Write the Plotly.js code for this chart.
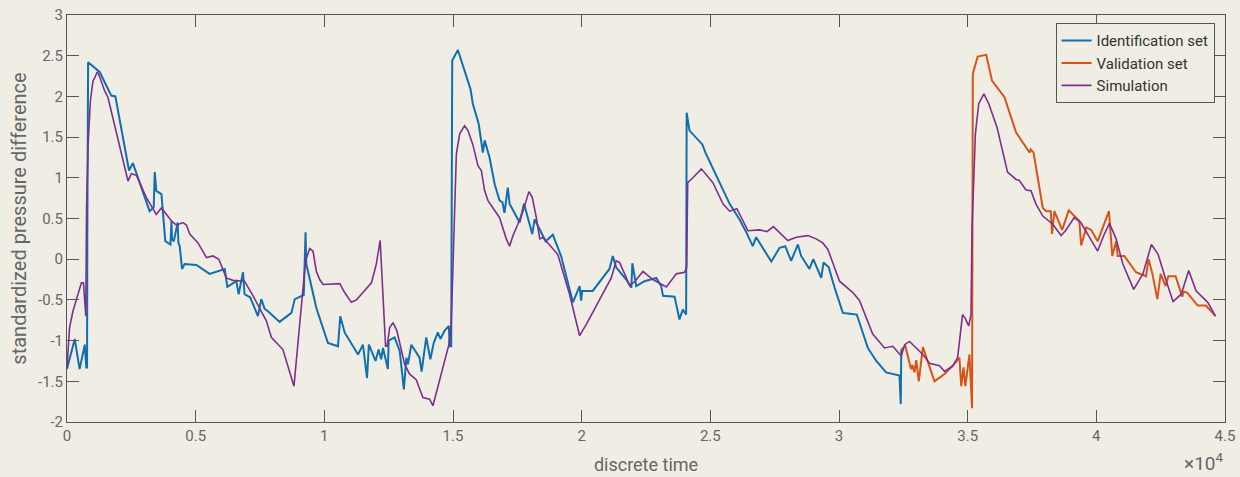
<!DOCTYPE html>
<html>
<head>
<meta charset="utf-8">
<script src="https://cdn.plot.ly/plotly-3.0.1.min.js"></script>
<style>
  html, body { margin: 0; padding: 0; background: #F0EEE4; }
  #chart { width: 1240px; height: 477px; }
</style>
</head>
<body>
<div id="chart"></div>
<script>
// ---- Data (discrete time, standardized pressure difference) ----
const identX = [0,300,490,690,750,780,790,820,1270,1720,1880,2410,2560,2760,3210,3370,3410,3470,3670,3820,4020,4060,4080,4150,4300,4330,4380,4470,4570,5030,5540,6130,6230,6580,6670,6840,6900,7120,7420,7550,7680,7810,8260,8720,8850,9200,9270,9300,9690,10140,10530,10620,10790,11310,11500,11660,11730,11990,12110,12210,12280,12470,12500,12730,12930,13090,13190,13250,13380,13700,13780,13960,14120,14250,14410,14510,14670,14840,14870,14930,14970,15190,15680,15770,16000,16160,16230,16420,16620,16810,16920,17000,17130,17200,17590,17760,18080,18170,18600,18880,19200,19660,19920,19980,20020,20430,21080,21210,21340,21730,21930,21970,22120,22440,22900,23090,23160,23610,23800,23930,24060,24080,24190,24690,24810,25750,26130,26400,26650,26780,27370,27690,27910,28140,28400,28530,28850,29000,29310,29400,29600,29830,30150,30410,30690,31120,31450,31830,32350,32400,32420];
const identY = [-1.35,-0.98,-1.35,-1.05,-1.33,-1.33,0.3,2.42,2.30,2.01,2.0,1.09,1.18,1.0,0.59,0.64,1.07,0.84,0.80,0.22,0.18,0.47,0.25,0.22,0.45,0.2,0.16,-0.12,-0.06,-0.07,-0.18,-0.12,-0.34,-0.27,-0.43,-0.16,-0.43,-0.47,-0.70,-0.49,-0.61,-0.64,-0.77,-0.66,-0.49,-0.44,0.33,-0.06,-0.6,-1.03,-1.07,-0.70,-0.90,-1.17,-1.05,-1.46,-1.05,-1.25,-1.11,-1.23,-1.09,-1.35,-1.0,-0.96,-1.13,-1.6,-1.21,-1.29,-1.05,-1.21,-1.38,-0.96,-1.23,-1.03,-0.90,-0.98,-0.88,-0.82,-1.07,-1.07,2.44,2.57,2.09,1.91,1.66,1.31,1.46,1.25,0.92,0.72,0.70,0.57,0.88,0.68,0.45,0.68,0.31,0.49,0.22,0.30,0.04,-0.53,-0.33,-0.51,-0.39,-0.39,-0.12,0.04,-0.10,-0.25,-0.35,-0.05,-0.33,-0.27,-0.23,-0.33,-0.45,-0.46,-0.74,-0.62,-0.68,1.80,1.58,1.41,1.31,0.68,0.49,0.33,0.16,0.27,-0.03,0.14,0.16,-0.02,0.18,0.04,-0.12,0.0,-0.23,-0.04,-0.10,-0.35,-0.66,-0.67,-0.68,-1.09,-1.25,-1.39,-1.43,-1.78,-1.11];

const validX = [32420,32580,32800,32850,32930,33000,33100,33260,33710,34100,34420,34680,34750,34840,34910,35000,35070,35170,35200,35390,35720,35950,36430,36880,37330,37400,37450,37560,37920,38050,38230,38280,38370,38670,38930,39340,39410,39610,39800,40050,40490,40620,40770,40830,41090,41540,41930,42030,42180,42370,42500,42690,42800,43080,43340,43400,43530,43940,44260,44630];
const validY = [-1.11,-1.07,-1.35,-1.30,-1.39,-1.24,-1.50,-1.08,-1.50,-1.41,-1.31,-1.21,-1.56,-1.33,-1.56,-1.35,-1.17,-1.83,2.28,2.49,2.51,2.19,1.99,1.56,1.35,1.31,1.35,1.31,0.63,0.59,0.59,0.31,0.59,0.36,0.60,0.47,0.17,0.39,0.36,0.22,0.59,0.04,0.22,0.04,0.04,-0.16,-0.21,0.0,-0.18,-0.49,-0.18,-0.33,-0.21,-0.21,-0.46,-0.40,-0.41,-0.57,-0.57,-0.70];

const simX = [0,100,230,560,640,730,760,820,910,1010,1080,1170,1260,1460,1590,1980,2370,2500,2700,3080,3470,3670,3870,4060,4250,4510,4640,4770,5090,5420,5670,5900,6190,6450,6900,7230,7750,7940,8390,8820,9270,9430,9560,9690,9820,9950,10600,10790,11050,11250,11500,11830,12020,12170,12380,12440,12540,12670,12820,13120,13310,13570,13830,14090,14220,14350,14610,14840,14930,15130,15260,15450,15580,15770,15970,16100,16230,16360,16810,17070,17200,17330,17520,17720,17950,18080,18240,18370,18490,18750,19070,19530,19920,20180,20690,21150,21340,21470,21670,21860,22050,22380,22770,23290,23680,24000,24080,24120,24320,24650,25100,25490,25750,26030,26460,26910,27200,27450,28010,28340,28790,29110,29370,29570,30020,30540,30800,31310,31770,32090,32420,32550,32740,33260,33520,33910,34100,34420,34610,34750,34800,34910,35040,35130,35170,35300,35430,35630,35820,36140,36400,36550,36880,37000,37270,37460,37650,37920,38310,38630,38800,39140,39400,39730,40050,40300,40510,40770,41030,41450,41810,42140,42400,42720,42980,43300,43590,43880,44330,44630];
const simY = [-1.33,-0.84,-0.64,-0.29,-0.29,-0.70,0.63,1.41,1.95,2.19,2.23,2.30,2.25,2.07,1.99,1.46,0.96,1.05,1.03,0.76,0.55,0.63,0.55,0.47,0.42,0.45,0.42,0.31,0.20,0.02,0.04,0.0,-0.23,-0.26,-0.27,-0.45,-0.76,-0.96,-1.11,-1.56,-0.02,0.13,0.10,-0.15,-0.25,-0.31,-0.30,-0.41,-0.53,-0.50,-0.41,-0.29,-0.06,0.23,-1.07,-1.07,-0.84,-0.78,-0.88,-1.29,-1.41,-1.48,-1.70,-1.72,-1.80,-1.64,-1.33,-1.05,-0.80,1.29,1.54,1.64,1.58,1.41,1.15,1.09,0.84,0.72,0.51,0.25,0.16,0.29,0.43,0.59,0.83,0.76,0.51,0.25,0.27,0.18,0.06,-0.43,-0.94,-0.80,-0.51,-0.23,-0.02,-0.04,-0.18,-0.32,-0.28,-0.15,-0.25,-0.34,-0.18,-0.16,-0.10,0.94,1.0,1.11,0.94,0.68,0.59,0.62,0.35,0.36,0.34,0.40,0.23,0.27,0.29,0.25,0.20,0.12,-0.27,-0.41,-0.51,-0.92,-1.09,-1.07,-1.19,-1.05,-1.01,-1.17,-1.28,-1.31,-1.38,-1.31,-1.21,-0.84,-0.68,-0.73,-0.82,-0.68,0.39,1.54,1.91,2.03,1.91,1.62,1.29,1.07,0.98,0.97,0.85,0.84,0.68,0.53,0.43,0.29,0.35,0.51,0.45,0.27,0.10,0.30,0.44,0.25,-0.06,-0.37,-0.18,0.18,0.06,-0.27,-0.52,-0.43,-0.14,-0.39,-0.53,-0.70];

const seriesNames = ["Identification set", "Validation set", "Simulation"];
const xTickVals = [0,5000,10000,15000,20000,25000,30000,35000,40000,45000];
const xTickText = ["0","0.5","1","1.5","2","2.5","3","3.5","4","4.5"];
const yTickVals = [-2,-1.5,-1,-0.5,0,0.5,1,1.5,2,2.5,3];
const yTickText = ["-2","-1.5","-1","-0.5","0","0.5","1","1.5","2","2.5","3"];

const BG = "#F0EEE4";
const FONT = "Roboto, 'DejaVu Sans', sans-serif";

const traces = [
  {x: identX, y: identY, name: seriesNames[0], type: "scatter", mode: "lines",
   line: {color: "#0F6FAF", width: 2}},
  {x: validX, y: validY, name: seriesNames[1], type: "scatter", mode: "lines",
   line: {color: "#D95319", width: 2}},
  {x: simX, y: simY, name: seriesNames[2], type: "scatter", mode: "lines",
   line: {color: "#7E2F8E", width: 1.6}}
];

const axisCommon = {
  showgrid: false, zeroline: false, showline: true, mirror: "ticks",
  linecolor: "#555555", linewidth: 1, ticks: "inside", ticklen: 12,
  tickcolor: "#555555", tickwidth: 1,
  tickfont: {family: FONT, size: 15, color: "#666666"}
};

const layout = {
  width: 1240, height: 477,
  paper_bgcolor: BG, plot_bgcolor: BG,
  margin: {l: 67, r: 15, t: 15, b: 55},
  showlegend: true,
  font: {family: FONT, color: "#555555"},
  xaxis: Object.assign({}, axisCommon, {
    range: [0, 45000], tickmode: "array", tickvals: xTickVals, ticktext: xTickText,
    title: {text: "discrete time", font: {family: FONT, size: 18, color: "#666666"}, standoff: 14}
  }),
  yaxis: Object.assign({}, axisCommon, {
    range: [-2, 3], tickmode: "array", tickvals: yTickVals, ticktext: yTickText,
    title: {text: "standardized pressure difference", font: {family: FONT, size: 20, color: "#666666"}, standoff: 6}
  }),
  legend: {
    x: 0.991, y: 0.98, xanchor: "right", yanchor: "top",
    bgcolor: BG, bordercolor: "#555555", borderwidth: 1,
    font: {family: FONT, size: 15, color: "#333333"},
    itemwidth: 30, tracegroupgap: 0
  },
  annotations: [{
    xref: "paper", yref: "paper", x: 1.0, y: 0, yshift: -54,
    xanchor: "right", yanchor: "bottom", showarrow: false, borderpad: 0,
    text: "×10<sup>4</sup>", font: {family: FONT, size: 19, color: "#666666"}
  }]
};

Plotly.newPlot("chart", traces, layout, {displayModeBar: false, staticPlot: true});
</script>
</body>
</html>
